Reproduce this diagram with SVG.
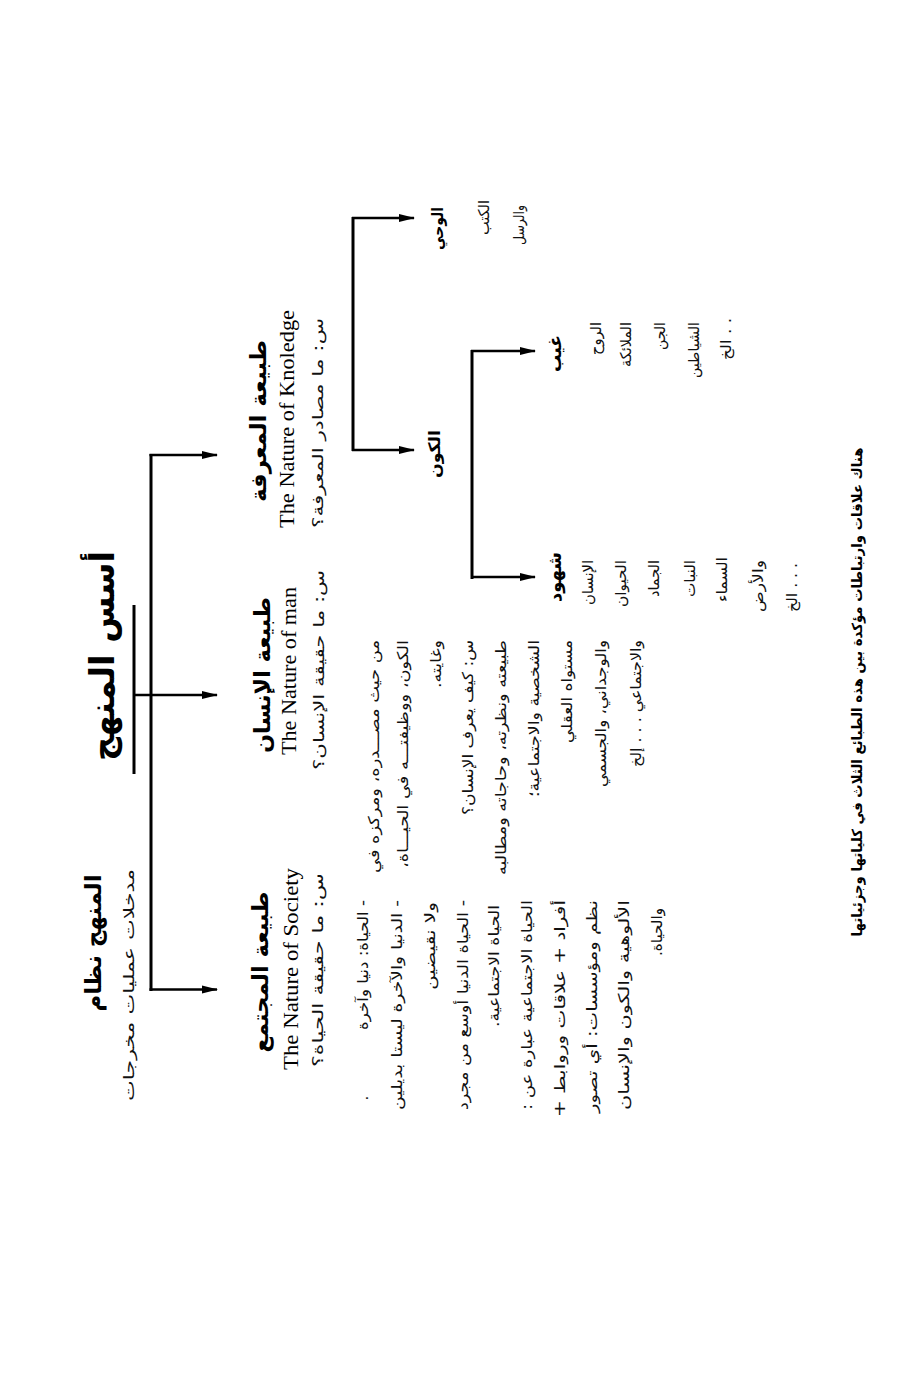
<svg xmlns="http://www.w3.org/2000/svg" width="922" height="1373" viewBox="0 0 922 1373">
<style>
.ar{font-family:"DejaVu Sans",sans-serif;font-size:15px;fill:#111;direction:rtl;dominant-baseline:central}
.arb{font-family:"DejaVu Sans",sans-serif;font-weight:bold;fill:#000;direction:rtl;dominant-baseline:central}
.en{font-family:"Liberation Serif",serif;font-size:22px;fill:#000;dominant-baseline:central}
.ln{stroke:#000;stroke-width:3;fill:none}
.br{stroke:#000;stroke-width:2.5;fill:none;marker-end:url(#arr)}
</style>
<defs>
<marker id="arr" viewBox="0 0 16 10" refX="15" refY="5" markerWidth="16" markerHeight="10" markerUnits="userSpaceOnUse" orient="auto">
<path d="M0,1 L16,5 L0,9 z" fill="#000"/>
</marker>
</defs>
<rect width="922" height="1373" fill="#fff"/>

<g id="connectors">
<line class="ln" x1="151" y1="454" x2="151" y2="991"/>
<line class="ln" x1="134" y1="605" x2="134" y2="774"/>
<line class="br" x1="149.5" y1="455" x2="217" y2="455"/>
<line class="br" x1="134" y1="695" x2="217" y2="695"/>
<line class="br" x1="149.5" y1="989.5" x2="217" y2="989.5"/>
<line class="ln" x1="353" y1="217" x2="353" y2="451"/>
<line class="br" x1="352" y1="218" x2="414" y2="218"/>
<line class="br" x1="352" y1="450" x2="414" y2="450"/>
<line class="ln" x1="472" y1="350" x2="472" y2="579"/>
<line class="br" x1="471" y1="351" x2="535" y2="351"/>
<line class="br" x1="471" y1="577" x2="535" y2="577"/>
</g>

<g id="title">
<text class="arb" font-size="34" transform="translate(102,656) rotate(-90)" text-anchor="middle" textLength="210" lengthAdjust="spacingAndGlyphs">أسس المنهج</text>
</g>

<g id="system">
<text class="arb" font-size="23" transform="translate(93,943) rotate(-90)" text-anchor="middle" textLength="137" lengthAdjust="spacingAndGlyphs">المنهج نظام</text>
<text class="ar" font-size="17" transform="translate(129,985) rotate(-90)" text-anchor="middle" textLength="232" lengthAdjust="spacingAndGlyphs">مدخلات  عمليات  مخرجات</text>
</g>

<g id="knowledge">
<text class="arb" font-size="22" transform="translate(258,421) rotate(-90)" text-anchor="middle" textLength="162" lengthAdjust="spacingAndGlyphs">طبيعة  المعرفة</text>
<text class="en" transform="translate(286,419) rotate(-90)" text-anchor="middle" textLength="218" lengthAdjust="spacingAndGlyphs">The Nature of Knoledge</text>
<text class="ar" font-size="17" transform="translate(318,423) rotate(-90)" text-anchor="middle" textLength="210" lengthAdjust="spacingAndGlyphs">س: ما  مصادر  المعرفة؟</text>
</g>

<g id="man">
<text class="arb" font-size="22" transform="translate(262,675) rotate(-90)" text-anchor="middle" textLength="156" lengthAdjust="spacingAndGlyphs">طبيعة  الإنسان</text>
<text class="en" transform="translate(288,671) rotate(-90)" text-anchor="middle" textLength="168" lengthAdjust="spacingAndGlyphs">The Nature of man</text>
<text class="ar" font-size="17" transform="translate(319,670) rotate(-90)" text-anchor="middle" textLength="200" lengthAdjust="spacingAndGlyphs">س: ما  حقيقة  الإنسان؟</text>
<text class="ar" transform="translate(374,640) rotate(-90)" text-anchor="start" textLength="233" lengthAdjust="spacingAndGlyphs">من  حيث  مصـــدره،  ومركزه في</text>
<text class="ar" transform="translate(403,640) rotate(-90)" text-anchor="start" textLength="228" lengthAdjust="spacingAndGlyphs">الكون،  ووظيفتـــه  في  الحيـــاة،</text>
<text class="ar" transform="translate(436,640) rotate(-90)" text-anchor="start" textLength="48" lengthAdjust="spacingAndGlyphs">وغايته.</text>
<text class="ar" transform="translate(468,640) rotate(-90)" text-anchor="start" textLength="175" lengthAdjust="spacingAndGlyphs">س: كيف يعرف الإنسان؟</text>
<text class="ar" transform="translate(501,640) rotate(-90)" text-anchor="start" textLength="235" lengthAdjust="spacingAndGlyphs">طبيعته ونظرته، وحاجاته ومطالبه</text>
<text class="ar" transform="translate(534,640) rotate(-90)" text-anchor="start" textLength="157" lengthAdjust="spacingAndGlyphs">الشخصية والاجتماعية؛</text>
<text class="ar" transform="translate(567,640) rotate(-90)" text-anchor="start" textLength="103" lengthAdjust="spacingAndGlyphs">مستواه العقلي</text>
<text class="ar" transform="translate(601,640) rotate(-90)" text-anchor="start" textLength="147" lengthAdjust="spacingAndGlyphs">والوجداني، والجسمي</text>
<text class="ar" transform="translate(636,640) rotate(-90)" text-anchor="start" textLength="127" lengthAdjust="spacingAndGlyphs">والاجتماعي . . . إلخ</text>
</g>

<g id="society">
<text class="arb" font-size="22" transform="translate(260,972) rotate(-90)" text-anchor="middle" textLength="161" lengthAdjust="spacingAndGlyphs">طبيعة  المجتمع</text>
<text class="en" transform="translate(290,969) rotate(-90)" text-anchor="middle" textLength="202" lengthAdjust="spacingAndGlyphs">The Nature of Society</text>
<text class="ar" font-size="17" transform="translate(318,970) rotate(-90)" text-anchor="middle" textLength="194" lengthAdjust="spacingAndGlyphs">س: ما  حقيقة  الحياة؟</text>
<text class="ar" transform="translate(363,900) rotate(-90)" text-anchor="start" textLength="130" lengthAdjust="spacingAndGlyphs">- الحياة: دنيا وآخرة</text>
<text class="ar" transform="translate(363,1098) rotate(-90)" text-anchor="middle">.</text>
<text class="ar" transform="translate(397,900) rotate(-90)" text-anchor="start" textLength="210" lengthAdjust="spacingAndGlyphs">- الدنيا والآخرة ليستا بديلين</text>
<text class="ar" transform="translate(430,902) rotate(-90)" text-anchor="start" textLength="88" lengthAdjust="spacingAndGlyphs">ولا نقيضين</text>
<text class="ar" transform="translate(463,900) rotate(-90)" text-anchor="start" textLength="210" lengthAdjust="spacingAndGlyphs">- الحياة الدنيا أوسع من مجرد</text>
<text class="ar" transform="translate(494,905) rotate(-90)" text-anchor="start" textLength="122" lengthAdjust="spacingAndGlyphs">الحياة الاجتماعية.</text>
<text class="ar" transform="translate(527,900) rotate(-90)" text-anchor="start" textLength="210" lengthAdjust="spacingAndGlyphs">الحياة الاجتماعية عبارة عن :</text>
<text class="ar" transform="translate(560,900) rotate(-90)" text-anchor="start" textLength="217" lengthAdjust="spacingAndGlyphs">أفراد + علاقات وروابط +</text>
<text class="ar" transform="translate(592,900) rotate(-90)" text-anchor="start" textLength="213" lengthAdjust="spacingAndGlyphs">نظم ومؤسسات: أي تصور</text>
<text class="ar" transform="translate(624,900) rotate(-90)" text-anchor="start" textLength="210" lengthAdjust="spacingAndGlyphs">الألوهية والكون والإنسان</text>
<text class="ar" transform="translate(657,908) rotate(-90)" text-anchor="start" textLength="48" lengthAdjust="spacingAndGlyphs">والحياة.</text>
</g>

<g id="revelation">
<text class="arb" font-size="16" transform="translate(437,207) rotate(-90)" text-anchor="start" textLength="43" lengthAdjust="spacingAndGlyphs">الوحي</text>
<text class="ar" font-size="14" transform="translate(484,200) rotate(-90)" text-anchor="start" textLength="35" lengthAdjust="spacingAndGlyphs">الكتب</text>
<text class="ar" font-size="14" transform="translate(519,205) rotate(-90)" text-anchor="start" textLength="40" lengthAdjust="spacingAndGlyphs">والرسل</text>
</g>

<g id="universe">
<text class="arb" font-size="16" transform="translate(434,454) rotate(-90)" text-anchor="middle" textLength="48" lengthAdjust="spacingAndGlyphs">الكون</text>
</g>

<g id="unseen">
<text class="arb" font-size="18" transform="translate(554,335) rotate(-90)" text-anchor="start" textLength="37" lengthAdjust="spacingAndGlyphs">غيب</text>
<text class="ar" font-size="14" transform="translate(596,322) rotate(-90)" text-anchor="start" textLength="33" lengthAdjust="spacingAndGlyphs">الروح</text>
<text class="ar" font-size="14" transform="translate(626,322) rotate(-90)" text-anchor="start" textLength="45" lengthAdjust="spacingAndGlyphs">الملائكة</text>
<text class="ar" font-size="14" transform="translate(660,322) rotate(-90)" text-anchor="start" textLength="28" lengthAdjust="spacingAndGlyphs">الجن</text>
<text class="ar" font-size="14" transform="translate(694,322) rotate(-90)" text-anchor="start" textLength="56" lengthAdjust="spacingAndGlyphs">الشياطين</text>
<text class="ar" font-size="14" transform="translate(726,318) rotate(-90)" text-anchor="start" textLength="42" lengthAdjust="spacingAndGlyphs">. . الخ</text>
</g>

<g id="seen">
<text class="arb" font-size="18" transform="translate(554,552) rotate(-90)" text-anchor="start" textLength="50" lengthAdjust="spacingAndGlyphs">شهود</text>
<text class="ar" font-size="14" transform="translate(588,560) rotate(-90)" text-anchor="start" textLength="45" lengthAdjust="spacingAndGlyphs">الإنسان</text>
<text class="ar" font-size="14" transform="translate(621,560) rotate(-90)" text-anchor="start" textLength="47" lengthAdjust="spacingAndGlyphs">الحيوان</text>
<text class="ar" font-size="14" transform="translate(654,560) rotate(-90)" text-anchor="start" textLength="37" lengthAdjust="spacingAndGlyphs">الجماد</text>
<text class="ar" font-size="14" transform="translate(690,560) rotate(-90)" text-anchor="start" textLength="37" lengthAdjust="spacingAndGlyphs">النبات</text>
<text class="ar" font-size="14" transform="translate(722,557) rotate(-90)" text-anchor="start" textLength="45" lengthAdjust="spacingAndGlyphs">السماء</text>
<text class="ar" font-size="14" transform="translate(758,560) rotate(-90)" text-anchor="start" textLength="52" lengthAdjust="spacingAndGlyphs">والأرض</text>
<text class="ar" font-size="14" transform="translate(792,563) rotate(-90)" text-anchor="start" textLength="49" lengthAdjust="spacingAndGlyphs">. . . الخ</text>
</g>

<g id="note">
<text class="arb" font-size="14" transform="translate(857,692) rotate(-90)" text-anchor="middle" textLength="489" lengthAdjust="spacingAndGlyphs">هناك علاقات وارتباطات مؤكدة بين هذه الطبائع الثلاث في كلياتها وجزئياتها</text>
</g>
</svg>
